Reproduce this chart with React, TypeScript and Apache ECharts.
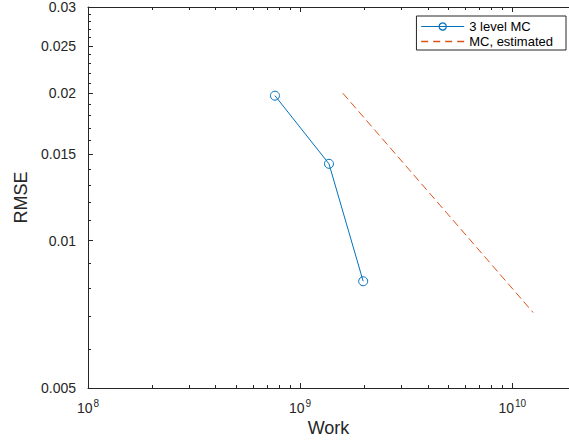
import React, { useEffect, useRef } from "react";
import * as echarts from "echarts";

const workMLMC = [7.61e8, 1.368e9, 1.983e9];
const rmseMLMC = [0.01977, 0.01435, 0.00826];
const workMC = [1.59e9, 1.255e10];
const rmseMC = [0.02, 0.00713];

const xMajor = [1e8, 1e9, 1e10];
const xMinor = [2e8, 3e8, 4e8, 5e8, 6e8, 7e8, 8e8, 9e8, 2e9, 3e9, 4e9, 5e9, 6e9, 7e9, 8e9, 9e9];
const yMajor = [0.005, 0.01, 0.015, 0.02, 0.025, 0.03];
const yMinor = [0.006, 0.007, 0.008, 0.009, 0.011, 0.012, 0.013, 0.014, 0.016, 0.017, 0.018, 0.019, 0.021, 0.022, 0.023, 0.024, 0.026, 0.027, 0.028, 0.029];

const X_MIN = 1e8;
const X_MAX = 1.852e10;
const Y_MIN = 0.005;
const Y_MAX = 0.03;

const FONT = "Liberation Sans, Arial, Helvetica, sans-serif";
const AX = "#262626";
const BLUE = "#0072BD";
const ORANGE = "#D95319";

export default function App() {
  const ref = useRef<HTMLDivElement>(null);
  useEffect(() => {
    const chart = echarts.init(ref.current!, undefined, { renderer: "svg" });
    const xBase = {
      type: "log",
      logBase: 10,
      min: X_MIN,
      max: X_MAX,
      splitLine: { show: false },
      minorTick: { show: false },
    };
    const yBase = {
      type: "log",
      logBase: 10,
      min: Y_MIN,
      max: Y_MAX,
      splitLine: { show: false },
      minorTick: { show: false },
    };
    chart.setOption({
      animation: false,
      backgroundColor: "#fff",
      grid: { left: 88, top: 5, bottom: 57, right: -2 },
      legend: {
        orient: "vertical",
        right: 3,
        top: 16,
        itemWidth: 43,
        itemHeight: 9,
        itemGap: 2,
        padding: [4, 13, 2, 4],
        borderColor: AX,
        borderWidth: 1,
        borderRadius: 0,
        backgroundColor: "#fff",
        textStyle: { fontSize: 13, fontFamily: FONT, color: "#000" },
        data: [
          {
            name: "3 level MC",
            lineStyle: { color: BLUE, width: 1.2 },
            itemStyle: { color: "rgba(255,255,255,0)", borderColor: BLUE, borderWidth: 1.2 },
          },
          {
            name: "MC, estimated",
            lineStyle: { color: ORANGE, width: 1.5, type: [7, 5] },
            itemStyle: { opacity: 0 },
          },
        ],
      },
      xAxis: [
        {
          ...xBase,
          position: "bottom",
          axisLine: { show: true, lineStyle: { color: AX, width: 1 } },
          axisTick: { show: true, inside: true, length: 5, customValues: xMajor, lineStyle: { color: AX } },
          axisLabel: {
            customValues: xMajor,
            margin: 10,
            fontFamily: FONT,
            fontSize: 14,
            color: AX,
            formatter: (v: number) => {
              const e = Math.round(Math.log10(v));
              return "10{s|" + String(e) + "}";
            },
            rich: { s: { fontSize: 10, fontFamily: FONT, color: AX, padding: [0, 0, 9, 1] } },
          },
          name: "Work",
          nameLocation: "middle",
          nameGap: 30,
          nameTextStyle: { fontSize: 18, fontFamily: FONT, color: AX },
        },
        {
          ...xBase,
          position: "bottom",
          axisLine: { show: false },
          axisTick: { show: true, inside: true, length: 3, customValues: xMinor, lineStyle: { color: AX } },
          axisLabel: { show: false },
        },
        {
          ...xBase,
          position: "top",
          axisLine: { show: true, lineStyle: { color: AX, width: 1 } },
          axisTick: { show: true, inside: true, length: 5, customValues: xMajor, lineStyle: { color: AX } },
          axisLabel: { show: false },
        },
        {
          ...xBase,
          position: "top",
          axisLine: { show: false },
          axisTick: { show: true, inside: true, length: 3, customValues: xMinor, lineStyle: { color: AX } },
          axisLabel: { show: false },
        },
      ],
      yAxis: [
        {
          ...yBase,
          position: "left",
          axisLine: { show: true, lineStyle: { color: AX, width: 1 } },
          axisTick: { show: true, inside: true, length: 5, customValues: yMajor, lineStyle: { color: AX } },
          axisLabel: {
            customValues: yMajor,
            margin: 12,
            fontFamily: FONT,
            fontSize: 14,
            color: AX,
            formatter: (v: number) => String(parseFloat(v.toPrecision(6))),
          },
          name: "RMSE",
          nameLocation: "middle",
          nameGap: 58,
          nameTextStyle: { fontSize: 18, fontFamily: FONT, color: AX },
        },
        {
          ...yBase,
          position: "left",
          axisLine: { show: false },
          axisTick: { show: true, inside: true, length: 3, customValues: yMinor, lineStyle: { color: AX } },
          axisLabel: { show: false },
        },
      ],
      series: [
        {
          name: "3 level MC",
          type: "line",
          xAxisIndex: 0,
          yAxisIndex: 0,
          data: workMLMC.map((w, i) => [w, rmseMLMC[i]]),
          symbol: "circle",
          symbolSize: 9,
          lineStyle: { color: BLUE, width: 1 },
          itemStyle: { color: "rgba(255,255,255,0)", borderColor: BLUE, borderWidth: 1 },
        },
        {
          name: "MC, estimated",
          type: "line",
          xAxisIndex: 0,
          yAxisIndex: 0,
          data: workMC.map((w, i) => [w, rmseMC[i]]),
          symbol: "none",
          lineStyle: { color: ORANGE, width: 1, type: [8, 4] },
          itemStyle: { color: ORANGE },
        },
      ],
    });
    return () => chart.dispose();
  }, []);
  return <div ref={ref} style={{ width: 569, height: 445, position: "absolute", left: 0, top: 0 }} />;
}
